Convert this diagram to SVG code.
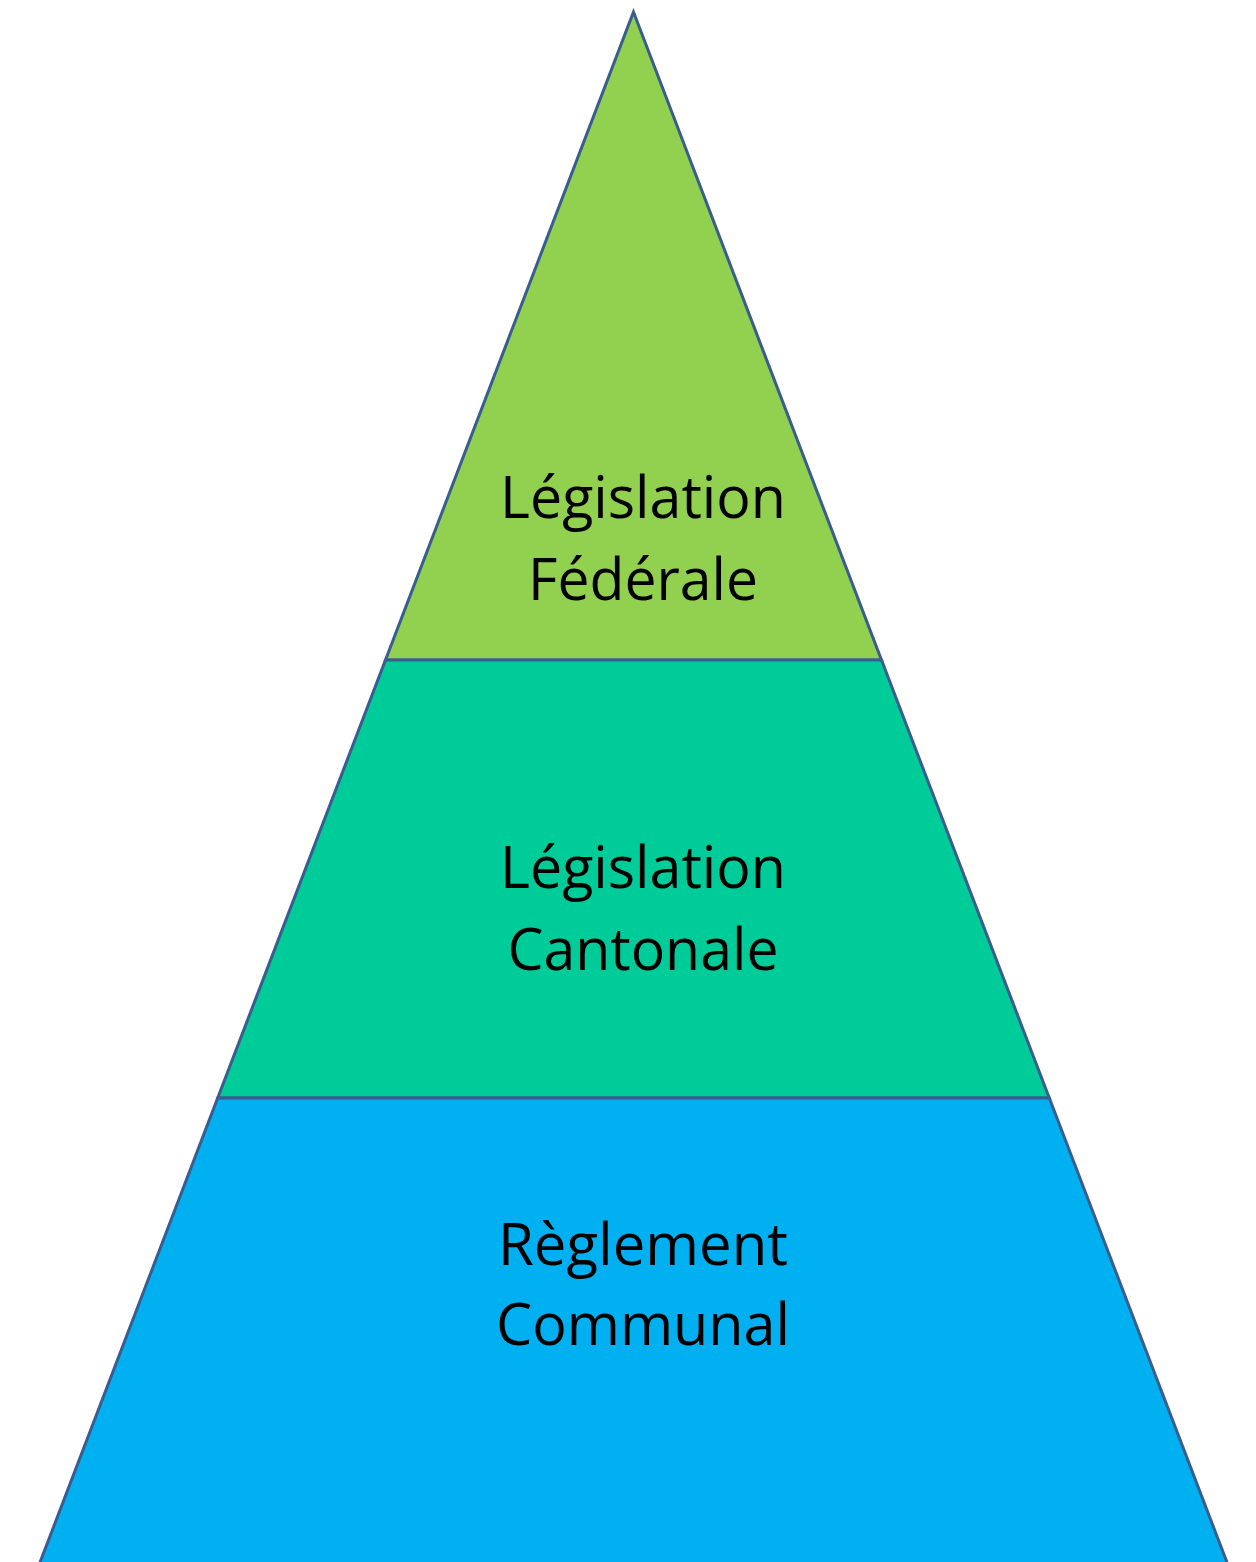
<svg xmlns="http://www.w3.org/2000/svg" width="1256" height="1562" viewBox="0 0 1256 1562">
  <style>
    .band { stroke: #3A5D8F; stroke-width: 3; stroke-linejoin: miter; }
    .lbl { font-family: "Open Sans", "Liberation Sans", sans-serif; font-size: 58px; fill: #000000; text-anchor: middle; }
  </style>
  <rect x="0" y="0" width="1256" height="1562" fill="#FFFFFF"/>
  <g id="federale">
    <polygon class="band" fill="#92D050" points="633.5,12 881.5,660 385.5,660"/>
    <text class="lbl" x="643" y="518" textLength="286" lengthAdjust="spacingAndGlyphs">Législation</text>
    <text class="lbl" x="643" y="600" textLength="230" lengthAdjust="spacingAndGlyphs">Fédérale</text>
  </g>
  <g id="cantonale">
    <polygon class="band" fill="#00CC99" points="385.5,660 881.5,660 1049.3,1098 217.7,1098"/>
    <text class="lbl" x="643" y="888" textLength="286" lengthAdjust="spacingAndGlyphs">Législation</text>
    <text class="lbl" x="643" y="970" textLength="271" lengthAdjust="spacingAndGlyphs">Cantonale</text>
  </g>
  <g id="communal">
    <polygon class="band" fill="#00B0F0" points="217.7,1098 1049.3,1098 1228,1565 39,1565"/>
    <text class="lbl" x="643" y="1265" textLength="290" lengthAdjust="spacingAndGlyphs">Règlement</text>
    <text class="lbl" x="643" y="1345" textLength="294" lengthAdjust="spacingAndGlyphs">Communal</text>
  </g>
  <g id="connectors"></g>
</svg>
